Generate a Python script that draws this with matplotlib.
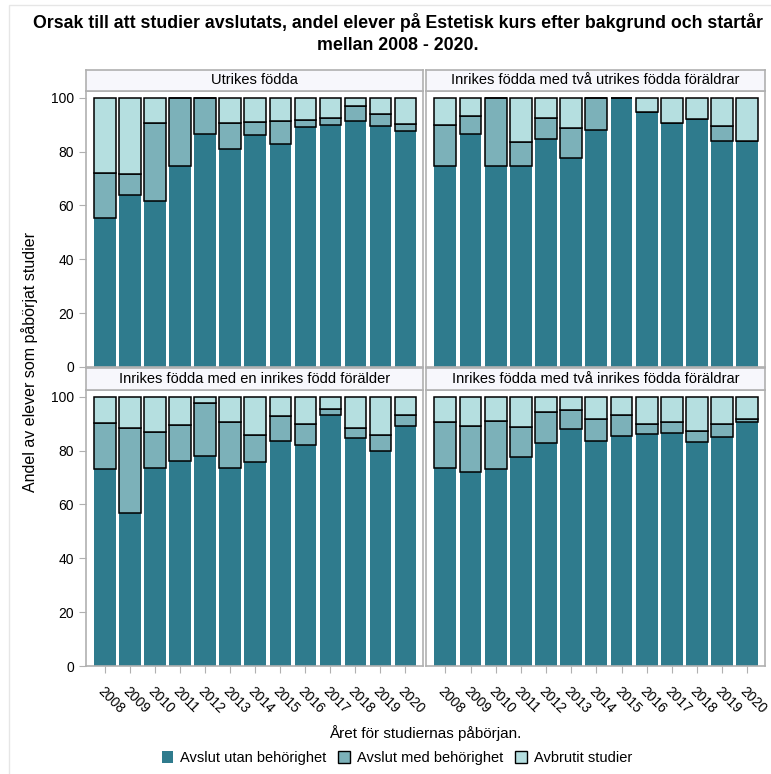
import matplotlib
matplotlib.use("Agg")
import matplotlib.pyplot as plt
from matplotlib.patches import Patch, Rectangle
import numpy as np

plt.rcParams['font.family'] = ['Liberation Sans', 'DejaVu Sans']

years = [str(y) for y in range(2008, 2021)]
panels = ["Utrikes födda",
          "Inrikes födda med två utrikes födda föräldrar",
          "Inrikes födda med en inrikes född förälder",
          "Inrikes födda med två inrikes födda föräldrar"]
series_names = ["Avslut utan behörighet", "Avslut med behörighet", "Avbrutit studier"]

# shares in percent; "Avbrutit studier" is the rest up to 100
utan_utrikes = [55.4, 63.7, 61.7, 74.8, 86.6, 80.9, 86.2, 82.7, 89.3, 89.9, 91.2, 89.4, 87.6]
med_utrikes = [16.6, 8.1, 28.9, 25.2, 13.4, 9.7, 4.7, 8.7, 2.3, 2.6, 5.9, 4.5, 2.5]

utan_tva_utr = [74.8, 86.6, 74.8, 74.8, 84.6, 77.6, 88.2, 100.0, 94.7, 90.6, 92.2, 84.1, 84.0]
med_tva_utr = [15.1, 6.7, 25.2, 8.6, 7.7, 11.2, 11.8, 0.0, 0.0, 0.0, 0.0, 5.3, 0.0]

utan_en_inr = [73.1, 57.0, 73.7, 76.2, 78.1, 73.7, 75.8, 83.6, 82.0, 93.2, 84.5, 79.9, 89.3]
med_en_inr = [17.1, 31.5, 13.3, 13.3, 19.7, 16.8, 10.1, 9.3, 7.7, 2.1, 3.9, 6.0, 3.8]

utan_tva_inr = [73.6, 72.0, 73.1, 77.6, 83.0, 88.1, 83.6, 85.3, 86.1, 86.7, 83.3, 84.9, 90.7]
med_tva_inr = [17.2, 17.2, 18.0, 11.0, 11.5, 6.8, 8.0, 7.9, 3.6, 4.0, 4.1, 4.9, 1.0]

utan_all = [utan_utrikes, utan_tva_utr, utan_en_inr, utan_tva_inr]
med_all = [med_utrikes, med_tva_utr, med_en_inr, med_tva_inr]

c_dark = "#2f7b8d"
c_mid = "#7cb1b9"
c_light = "#b5dfe0"
frame_col = "#b0b0b0"

W, H = 771, 774
fig = plt.figure(figsize=(W / 100, H / 100), dpi=100)

# faint outer frame (only top and left edges visible)
fig.patches.append(Rectangle((9 / W, -0.1), 1.2, 1 - 5 / H + 0.1, transform=fig.transFigure,
                             fill=False, edgecolor="#e6e6e6", linewidth=1.0))

xs = [(86, 423), (426, 765)]
ys = [(91, 367), (390, 666)]
strips = [(70, 91), (368, 390)]

x = np.arange(len(years))
for i in range(4):
    r, c = divmod(i, 2)
    x0, x1 = xs[c]
    y0, y1 = ys[r]
    ax = fig.add_axes([x0 / W, 1 - y1 / H, (x1 - x0) / W, (y1 - y0) / H])
    utan = np.array(utan_all[i])
    med = np.array(med_all[i])
    avbr = 100 - utan - med
    ax.bar(x, utan, width=0.87, color=c_dark, edgecolor="none")
    ax.bar(x, med, bottom=utan, width=0.87, color=c_mid, edgecolor="black", linewidth=1.1)
    ax.bar(x, avbr, bottom=utan + med, width=0.87, color=c_light, edgecolor="black", linewidth=1.1)
    ax.set_xlim(-0.77, 12.7)
    ax.set_ylim(0, 102.5)
    for s in ax.spines.values():
        s.set_color(frame_col)
        s.set_linewidth(1.2)
    ax.set_yticks([0, 20, 40, 60, 80, 100])
    ax.tick_params(colors=frame_col, labelcolor="black", labelsize=10, length=5)
    if c == 0:
        ax.set_yticklabels(["0", "20", "40", "60", "80", "100"])
    else:
        ax.tick_params(axis="y", left=False, labelleft=False)
    ax.set_xticks(x)
    if r == 1:
        ax.set_xticklabels(years, rotation=-45, ha="left", rotation_mode="anchor", fontsize=10)
        ax.tick_params(axis="x", pad=8)
    else:
        ax.tick_params(axis="x", bottom=False, labelbottom=False)

    s0, s1 = strips[r]
    sax = fig.add_axes([x0 / W, 1 - s1 / H, (x1 - x0) / W, (s1 - s0) / H])
    sax.set_facecolor("#f7f7fc")
    sax.set_xticks([])
    sax.set_yticks([])
    for s in sax.spines.values():
        s.set_color(frame_col)
        s.set_linewidth(1.2)
    sax.text(0.5, 0.5, panels[i], ha="center", va="center", fontsize=10.5, transform=sax.transAxes)

fig.text(398 / W, 1 - 22 / H,
         "Orsak till att studier avslutats, andel elever på Estetisk kurs efter bakgrund och startår",
         ha="center", va="center", fontsize=12.8, fontweight="bold")
fig.text(398 / W, 1 - 45 / H, "mellan 2008 - 2020.", ha="center", va="center",
         fontsize=12.8, fontweight="bold")

fig.text(30 / W, 1 - 362 / H, "Andel av elever som påbörjat studier", rotation=90,
         ha="center", va="center", fontsize=11.5)
fig.text(425 / W, 1 - 733 / H, "Året för studiernas påbörjan.", ha="center", va="center", fontsize=11)

handles = [Patch(facecolor=c_dark, edgecolor="none"),
           Patch(facecolor=c_mid, edgecolor="black"),
           Patch(facecolor=c_light, edgecolor="black")]
fig.legend(handles, series_names, loc="center", bbox_to_anchor=(397 / W, 1 - 758 / H), ncol=3,
           frameon=False, fontsize=10.5, handlelength=0.8, handleheight=0.8, handletextpad=0.5,
           columnspacing=0.8)

fig.savefig("out.png", dpi=100)
